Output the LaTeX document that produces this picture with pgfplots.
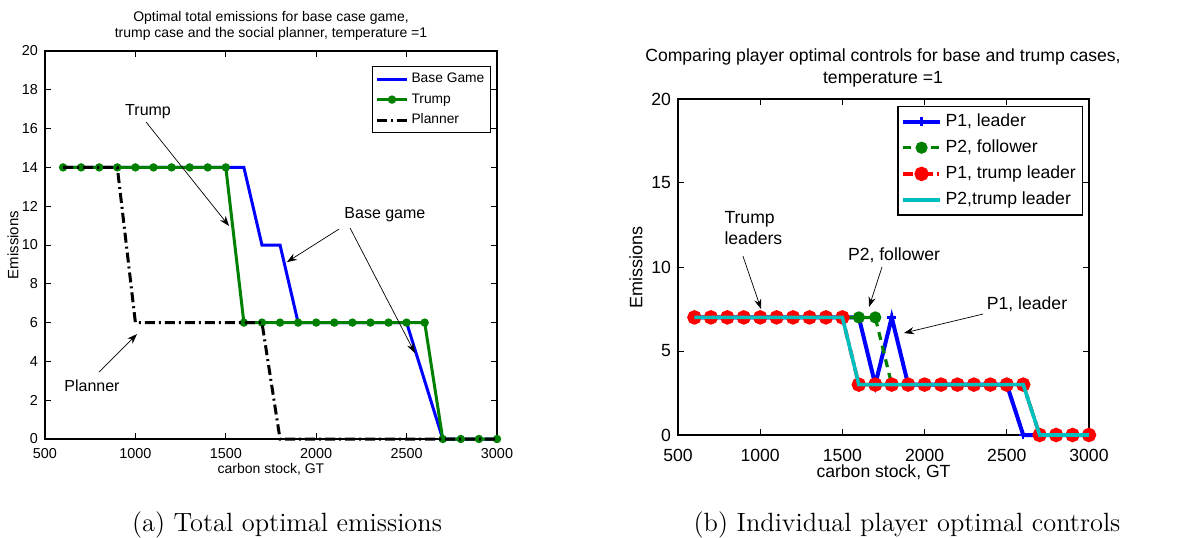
\documentclass[border=0pt]{standalone}
\usepackage{fontspec}
\setsansfont{Liberation Sans}
\usepackage{pgfplots}
\pgfplotsset{compat=1.18}
\usetikzlibrary{arrows.meta}
\definecolor{mgreen}{rgb}{0,0.5,0}
\definecolor{mcyan}{rgb}{0,0.75,0.75}
\tikzset{annarrow/.style={-{Stealth[length=5pt,width=3.6pt]}, line width=0.35pt, black}}
\begin{document}
\begin{tikzpicture}
\path[use as bounding box] (0,0) rectangle (592.5pt,268.5pt);
% ---------------- left axis ----------------
\begin{axis}[
  at={(22.5pt,49pt)}, anchor=south west,
  scale only axis, width=226pt, height=194pt,
  xmin=500, xmax=3000, ymin=0, ymax=20,
  xtick={500,1000,...,3000}, ytick={0,2,...,20},
  tick align=inside, major tick length=2.8pt,
  axis line style={line width=0.6pt}, tick style={line width=0.5pt, black},
  /pgf/number format/assume math mode=true,
  /pgf/number format/1000 sep={},
  tick label style={font=\sffamily\fontsize{7.2}{8}\selectfont},
  xticklabel style={yshift=-1pt},
  legend style={at={(1,1)}, anchor=north east, xshift=-3pt, yshift=-7.5pt,
    font=\sffamily\fontsize{6.9}{8}\selectfont, draw=black, line width=0.6pt,
    inner sep=1.5pt, nodes={inner sep=1.5pt, text height=5pt, text depth=1.5pt},
    row sep=0.75pt, cells={anchor=west}},
  legend image code/.code={\draw[mark repeat=2,mark phase=2,#1] plot coordinates {(0pt,0pt) (7.5pt,0pt) (15pt,0pt)};},
  clip=false, clip marker paths=true,
]
\addplot[blue, line width=1.5pt] coordinates {
(600,14)(700,14)(800,14)(900,14)(1000,14)(1100,14)(1200,14)(1300,14)(1400,14)(1500,14)
(1600,14)(1700,10)(1800,10)(1900,6)(2000,6)(2100,6)(2200,6)(2300,6)(2400,6)(2500,6)
(2600,3)(2700,0)(2800,0)(2900,0)(3000,0)};
\addlegendentry{Base Game}
\addplot[mgreen, line width=1.5pt, mark=*, mark size=1.3pt, mark options={fill=mgreen}] coordinates {
(600,14)(700,14)(800,14)(900,14)(1000,14)(1100,14)(1200,14)(1300,14)(1400,14)(1500,14)
(1600,6)(1700,6)(1800,6)(1900,6)(2000,6)(2100,6)(2200,6)(2300,6)(2400,6)(2500,6)
(2600,6)(2700,0)(2800,0)(2900,0)(3000,0)};
\addlegendentry{Trump}
\addplot[black, line width=1.5pt, dash pattern=on 5pt off 2pt on 1pt off 2pt] coordinates {
(600,14)(700,14)(800,14)(900,14)(1000,6)(1100,6)(1200,6)(1300,6)(1400,6)(1500,6)
(1600,6)(1700,6)(1800,0)(1900,0)(2000,0)(2100,0)(2200,0)(2300,0)(2400,0)(2500,0)
(2600,0)(2700,0)(2800,0)(2900,0)(3000,0)};
\addlegendentry{Planner}
\node[font=\sffamily\fontsize{8}{9}\selectfont] at (axis cs:1070,16.86) {Trump};
\draw[annarrow] (axis cs:1059,16.34) -- (axis cs:1518,10.98);
\node[font=\sffamily\fontsize{8}{9}\selectfont] at (axis cs:2380,11.55) {Base game};
\draw[annarrow] (axis cs:2126,10.82) -- (axis cs:1838,9.12);
\draw[annarrow] (axis cs:2187,10.88) -- (axis cs:2546,4.43);
\node[font=\sffamily\fontsize{8}{9}\selectfont] at (axis cs:760,2.73) {Planner};
\draw[annarrow] (axis cs:799,3.45) -- (axis cs:1009,5.41);
\end{axis}
% ---------------- right axis ----------------
\begin{axis}[
  at={(339pt,51pt)}, anchor=south west,
  scale only axis, width=205.5pt, height=168pt,
  xmin=500, xmax=3000, ymin=0, ymax=20,
  xtick={500,1000,...,3000}, ytick={0,5,...,20},
  tick align=inside, major tick length=3pt,
  axis line style={line width=0.6pt}, tick style={line width=0.5pt, black},
  /pgf/number format/assume math mode=true,
  /pgf/number format/1000 sep={},
  tick label style={font=\sffamily\fontsize{8.8}{10}\selectfont},
  xticklabel style={yshift=-3.5pt},
  legend style={at={(1,1)}, anchor=north east, xshift=-3pt, yshift=-3.5pt,
    font=\sffamily\fontsize{8.8}{10}\selectfont, draw=black, line width=0.6pt,
    inner sep=1.5pt, nodes={inner sep=1.8pt, text height=6.5pt, text depth=1.8pt},
    row sep=1.2pt, cells={anchor=west}},
  legend image code/.code={\draw[mark repeat=2,mark phase=2,#1] plot coordinates {(0pt,0pt) (9.25pt,0pt) (18.5pt,0pt)};},
  clip=false, clip marker paths=true,
]
\addplot[blue, line width=2pt, mark=+, mark size=2.2pt, mark options={line width=1.2pt}] coordinates {
(600,7)(700,7)(800,7)(900,7)(1000,7)(1100,7)(1200,7)(1300,7)(1400,7)(1500,7)
(1600,7)(1700,3)(1800,7)(1900,3)(2000,3)(2100,3)(2200,3)(2300,3)(2400,3)(2500,3)
(2600,0)(2700,0)(2800,0)(2900,0)(3000,0)};
\addlegendentry{P1, leader}
\addplot[mgreen, line width=1.6pt, dash pattern=on 4pt off 3pt, mark=*, mark size=2.2pt, mark options={solid, fill=mgreen}] coordinates {
(600,7)(700,7)(800,7)(900,7)(1000,7)(1100,7)(1200,7)(1300,7)(1400,7)(1500,7)
(1600,7)(1700,7)(1800,3)(1900,3)(2000,3)(2100,3)(2200,3)(2300,3)(2400,3)(2500,3)
(2600,3)(2700,0)(2800,0)(2900,0)(3000,0)};
\addlegendentry{P2, follower}
\addplot[red, line width=1.8pt, dash pattern=on 5pt off 2pt on 1pt off 2pt, mark=*, mark size=2.7pt, mark options={solid, fill=red}] coordinates {
(600,7)(700,7)(800,7)(900,7)(1000,7)(1100,7)(1200,7)(1300,7)(1400,7)(1500,7)
(1600,3)(1700,3)(1800,3)(1900,3)(2000,3)(2100,3)(2200,3)(2300,3)(2400,3)(2500,3)
(2600,3)(2700,0)(2800,0)(2900,0)(3000,0)};
\addlegendentry{P1, trump leader}
\addplot[mcyan, line width=1.8pt] coordinates {
(600,7)(700,7)(800,7)(900,7)(1000,7)(1100,7)(1200,7)(1300,7)(1400,7)(1500,7)
(1600,3)(1700,3)(1800,3)(1900,3)(2000,3)(2100,3)(2200,3)(2300,3)(2400,3)(2500,3)
(2600,3)(2700,0)(2800,0)(2900,0)(3000,0)};
\addlegendentry{P2,trump leader}
\node[font=\sffamily\fontsize{8.8}{10.5}\selectfont, align=left, anchor=west] at (axis cs:740,12.29) {Trump\\leaders};
\draw[annarrow] (axis cs:895,10.65) -- (axis cs:1005,7.5);
\node[font=\sffamily\fontsize{8.8}{10}\selectfont] at (axis cs:1814,10.71) {P2, follower};
\draw[annarrow] (axis cs:1741,10.0) -- (axis cs:1662,7.62);
\node[font=\sffamily\fontsize{8.8}{10}\selectfont] at (axis cs:2623,7.8) {P1, leader};
\draw[annarrow] (axis cs:2355,7.2) -- (axis cs:1875,6.07);
\end{axis}
% ---------------- titles, labels, captions ----------------
\node[anchor=base, font=\sffamily\fontsize{7}{8.5}\selectfont] at (135.5pt,258pt) {Optimal total emissions for base case game,};
\node[anchor=base, font=\sffamily\fontsize{7}{8.5}\selectfont] at (135.5pt,249.5pt) {trump case and the social planner, temperature =1};
\node[anchor=base, font=\sffamily\fontsize{8.8}{11}\selectfont] at (441.5pt,237.9pt) {Comparing player optimal controls for base and trump cases,};
\node[anchor=base, font=\sffamily\fontsize{8.8}{11}\selectfont] at (441.5pt,226.9pt) {temperature =1};
\node[rotate=90, font=\sffamily\fontsize{7.5}{8}\selectfont] at (6.5pt,146pt) {Emissions};
\node[rotate=90, font=\sffamily\fontsize{9}{10}\selectfont] at (318pt,135pt) {Emissions};
\node[anchor=base, font=\sffamily\fontsize{7}{8}\selectfont] at (135.5pt,32pt) {carbon stock, GT};
\node[anchor=base, font=\sffamily\fontsize{8.8}{10}\selectfont] at (441.75pt,30pt) {carbon stock, GT};
\node[anchor=base, font=\fontsize{13.2}{16}\selectfont] at (143.5pt,2.75pt) {(a) Total optimal emissions};
\node[anchor=base, font=\fontsize{13.2}{16}\selectfont] at (453.5pt,2.75pt) {(b) Individual player optimal controls};
\end{tikzpicture}
\end{document}
